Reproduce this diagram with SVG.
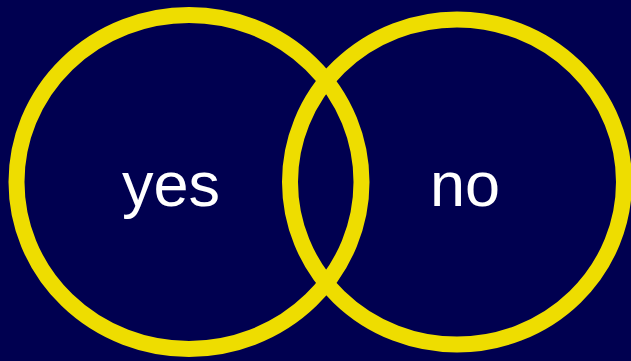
<svg xmlns="http://www.w3.org/2000/svg" width="631" height="361" viewBox="0 0 631 361">
<style>
.ring{fill:none;stroke:#eedd00;stroke-width:16}
.lbl{font-family:"Liberation Sans",Arial,sans-serif;font-size:63px;fill:#ffffff;text-anchor:middle}
</style>
<rect x="0" y="0" width="631" height="361" fill="#000050"/>
<g id="yes">
<ellipse class="ring" cx="189" cy="182" rx="172.5" ry="167"/>
<text class="lbl" x="171" y="206">yes</text>
</g>
<g id="no">
<ellipse class="ring" cx="457" cy="182" rx="167" ry="162.5"/>
<text class="lbl" x="465" y="206">no</text>
</g>
<g id="connectors"></g>
</svg>
